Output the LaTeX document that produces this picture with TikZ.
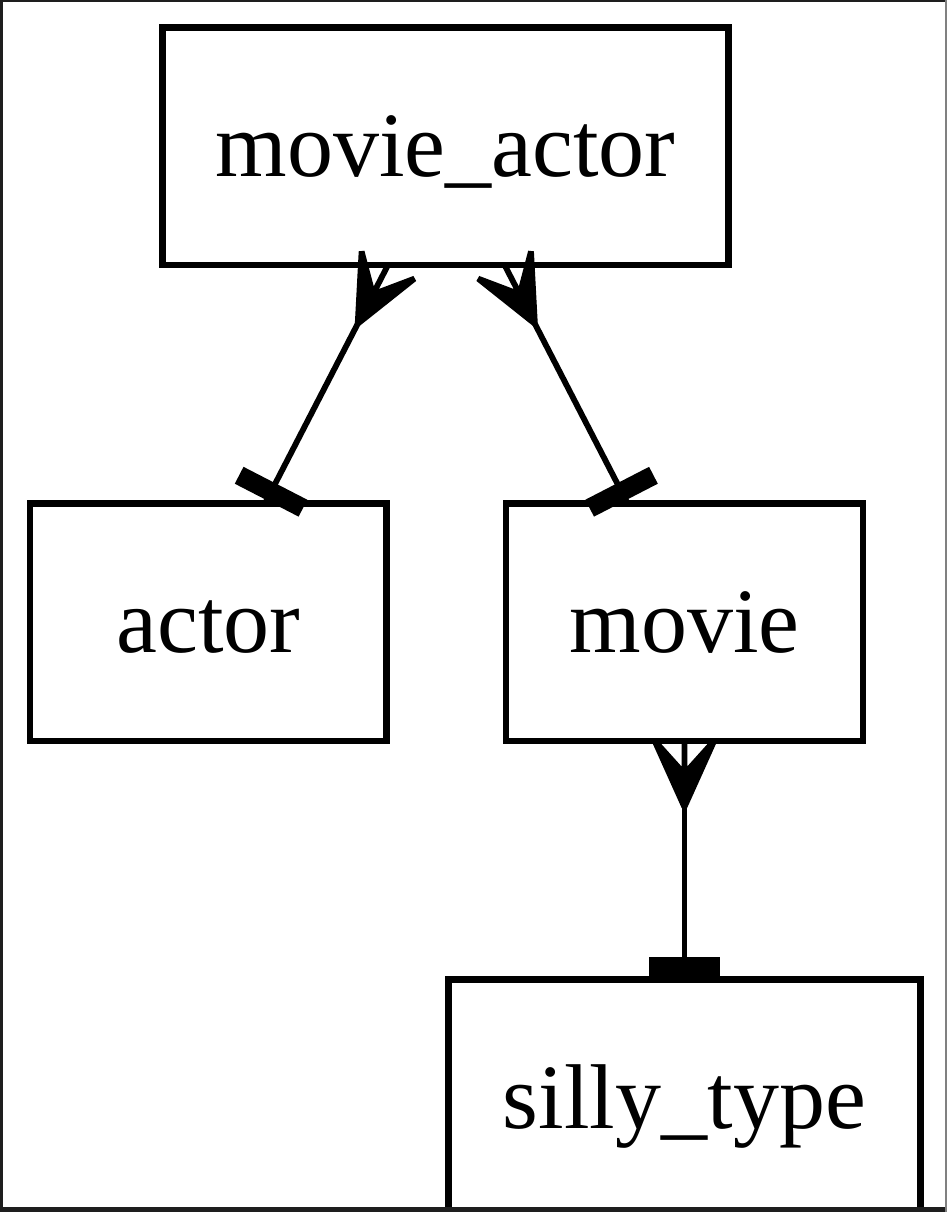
\documentclass[tikz,border=0pt]{standalone}
\usepackage{fontspec}
\setmainfont{Liberation Serif}
\usetikzlibrary{calc}
\definecolor{framedark}{HTML}{1E1E1E}
\definecolor{framegray}{HTML}{808080}
\tikzset{
  entity/.style={draw, line width=3.2pt, outer sep=0pt, inner sep=0pt,
    font=\fontsize{46}{55}\selectfont, text height=30pt, text depth=0pt},
  edgeline/.style={line width=2.9pt},
  crowhead/.style={line width=2.9pt, fill=black, line join=bevel},
  teebar/.style={line width=2.9pt, fill=black, line join=miter},
}
% #1 = point on node border, #2 = point toward the other end
\newcommand{\crowend}[2]{%
  \coordinate (cq) at ($(#1)!33pt!(#2)$);
  \filldraw[crowhead] (cq) -- ($(#1)!0.45!90:(cq)$) -- ($(#1)!0.5!(cq)$) -- (#1)
    -- ($(#1)!0.5!(cq)$) -- ($(#1)!0.45!-90:(cq)$) -- cycle;
}
\newcommand{\teeend}[2]{%
  \coordinate (tq) at ($(#1)!16.5pt!(#2)$);
  \coordinate (tm) at ($(#1)!0.2!(tq)$);
  \coordinate (tn) at ($(#1)!0.6!(tq)$);
  \coordinate (tv) at ($(#1)!1!90:(tq)$);
  \filldraw[teebar] ($(tm)+(tv)-(#1)$) -- ($(tn)+(tv)-(#1)$)
    -- ($(tn)-(tv)+(#1)$) -- ($(tm)-(tv)+(#1)$) -- cycle;
}
\begin{document}
\begin{tikzpicture}[x=0.5pt,y=-0.5pt]
\useasboundingbox (0,0) rectangle (947,1212);
\fill[white] (0,0) rectangle (947,1212);

\node[entity, minimum width=283.1pt, minimum height=118.85pt] (ma) at (445.4,146.2) {movie\_actor};
\node[entity, minimum width=178.25pt, minimum height=118.75pt] (actor) at (208.25,622.2) {actor};
\node[entity, minimum width=178.35pt, minimum height=118.75pt] (movie) at (684.4,622.2) {movie};
\node[entity, minimum width=236.1pt, minimum height=118.75pt] (silly) at (684.4,1098.1) {silly\_type};

% movie_actor -> actor
\coordinate (p1) at ($(ma.south)+(-57.4,0)$);
\coordinate (t1) at ($(actor.north)+(56.75,0)$);
\coordinate (q1) at ($(p1)!33pt!(t1)$);
\draw[edgeline] (q1) -- (t1);
\crowend{p1}{t1}
\teeend{t1}{p1}

% movie_actor -> movie
\coordinate (p2) at ($(ma.south)+(59.2,0)$);
\coordinate (t2) at ($(movie.north)+(-56.8,0)$);
\coordinate (q2) at ($(p2)!33pt!(t2)$);
\draw[edgeline] (q2) -- (t2);
\crowend{p2}{t2}
\teeend{t2}{p2}

% movie -> silly_type
\coordinate (p3) at (movie.south);
\coordinate (t3) at (silly.north);
\coordinate (q3) at ($(p3)!33pt!(t3)$);
\draw[edgeline] (q3) -- (t3);
\crowend{p3}{t3}
\teeend{t3}{p3}

% window frame
\fill[framedark] (0,0) rectangle (3,1212);
\fill[framedark] (0,0) rectangle (947,2);
\fill[framedark] (0,1207) rectangle (947,1212);
\fill[framegray] (945,0) rectangle (947,1212);
\end{tikzpicture}
\end{document}
